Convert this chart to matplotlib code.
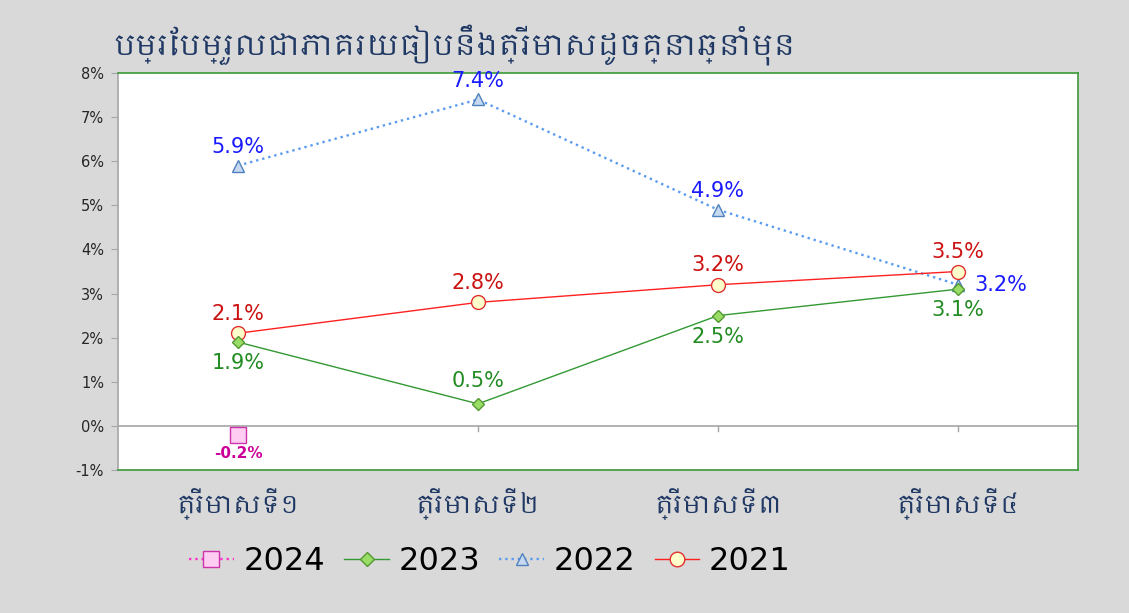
import numpy as np
import matplotlib
matplotlib.use("Agg")
import matplotlib.pyplot as plt
from matplotlib import font_manager
from matplotlib.ft2font import FT2Font

# data
title = "បម្រែបម្រួលជាភាគរយធៀបនឹងត្រីមាសដូចគ្នាឆ្នាំមុន"
quarters = ["ត្រីមាសទី១", "ត្រីមាសទី២", "ត្រីមាសទី៣", "ត្រីមាសទី៤"]
y2024 = [-0.2, np.nan, np.nan, np.nan]
y2023 = [1.9, 0.5, 2.5, 3.1]
y2022 = [5.9, 7.4, 4.9, 3.2]
y2021 = [2.1, 2.8, 3.2, 3.5]
yticks = list(range(-1, 9))

# fonts that have khmer glyphs, prefer a real khmer family
cands = []
for f in font_manager.fontManager.ttflist:
    try:
        if 0x1794 in FT2Font(f.fname).get_charmap():
            cands.append(f.name)
    except Exception:
        pass
good = [n for n in cands if "khmer" in n.lower()] + \
       [n for n in cands if "mono" not in n.lower() and "unifont" not in n.lower()]
khmer = good[0] if good else (cands[0] if cands else None)
kfam = [khmer, "DejaVu Sans"] if khmer else ["DejaVu Sans"]

num = "DejaVu Sans"

fig = plt.figure(figsize=(11.29, 6.13), dpi=100, facecolor="#d9d9d9")
ax = fig.add_axes([118/1129, 1-470/613, 960/1129, 397/613])
ax.set_facecolor("white")
x = np.arange(len(quarters))

ax.axhline(0, color="#a6a6a6", lw=1.2, zorder=1)
for xi in x:
    ax.plot([xi, xi], [0, -0.12], color="#a6a6a6", lw=1.0, zorder=1)

ax.plot(x, y2022, ls=":", color="#5b9bf0", lw=1.7, marker="^", ms=8,
        mfc="#c6d9f1", mec="#4f81bd", label="2022", zorder=3)
ax.plot(x, y2021, ls="-", color="#ff2020", lw=1.0, marker="o", ms=10,
        mfc="#ffffcc", mec="#e03030", label="2021", zorder=4)
ax.plot(x, y2023, ls="-", color="#339933", lw=1.0, marker="D", ms=6.5,
        mfc="#99dd66", mec="#559933", label="2023", zorder=5)
ax.plot(x, y2024, ls=":", color="#ff33cc", lw=1.7, marker="s", ms=11,
        mfc="#ffccf2", mec="#cc33aa", label="2024", zorder=6)

# data labels
lab = dict(fontsize=15, family=num)
for i, v in enumerate(y2022):
    if i == 3:
        ax.annotate(f"{v:.1f}%", (i, v), xytext=(12, 0), textcoords="offset points",
                    ha="left", va="center", color="#1a1aff", **lab)
    else:
        ax.annotate(f"{v:.1f}%", (i, v), xytext=(0, 6), textcoords="offset points",
                    ha="center", va="bottom", color="#1a1aff", **lab)
for i, v in enumerate(y2021):
    ax.annotate(f"{v:.1f}%", (i, v), xytext=(0, 7), textcoords="offset points",
                ha="center", va="bottom", color="#cc1111", **lab)
for i, v in enumerate(y2023):
    if i == 1:
        ax.annotate(f"{v:.1f}%", (i, v), xytext=(0, 9), textcoords="offset points",
                    ha="center", va="bottom", color="#228b22", **lab)
    else:
        ax.annotate(f"{v:.1f}%", (i, v), xytext=(0, -8), textcoords="offset points",
                    ha="center", va="top", color="#228b22", **lab)
ax.annotate(f"{y2024[0]:.1f}%", (0, y2024[0]), xytext=(0, -8), textcoords="offset points",
            ha="center", va="top", color="#cc0099", fontsize=11, fontweight="bold",
            family=num)

ax.set_xlim(-0.5, 3.5)
ax.set_ylim(-1, 8)
ax.set_yticks(yticks)
ax.set_yticklabels([f"{t}%" for t in yticks], fontsize=10.5, color="#262626",
                   family=num)
ax.tick_params(axis="y", length=5, color="#a6a6a6", pad=5)
ax.set_xticks(x)
ax.set_xticklabels(quarters, fontsize=18, color="#1f3864", family=kfam)
ax.tick_params(axis="x", length=0, pad=13)

for s in ["top", "right", "bottom"]:
    ax.spines[s].set_color("#3a9a3a")
    ax.spines[s].set_linewidth(1.2)
ax.spines["left"].set_color("#a6a6a6")
ax.spines["left"].set_linewidth(1.2)

fig.text(113/1129, 1-45/613, title, fontsize=21, color="#1f3864", va="center",
         ha="left", family=kfam)

handles, labels = ax.get_legend_handles_labels()
order = [3, 2, 0, 1]
fig.legend([handles[k] for k in order], [labels[k] for k in order],
           loc="center", bbox_to_anchor=(490/1129, 1-562/613), ncol=4,
           frameon=False, prop={"family": num, "size": 23}, handlelength=1.4,
           handletextpad=0.3, columnspacing=0.6, markerscale=1.05)

fig.savefig("out.png", dpi=100, facecolor=fig.get_facecolor())
